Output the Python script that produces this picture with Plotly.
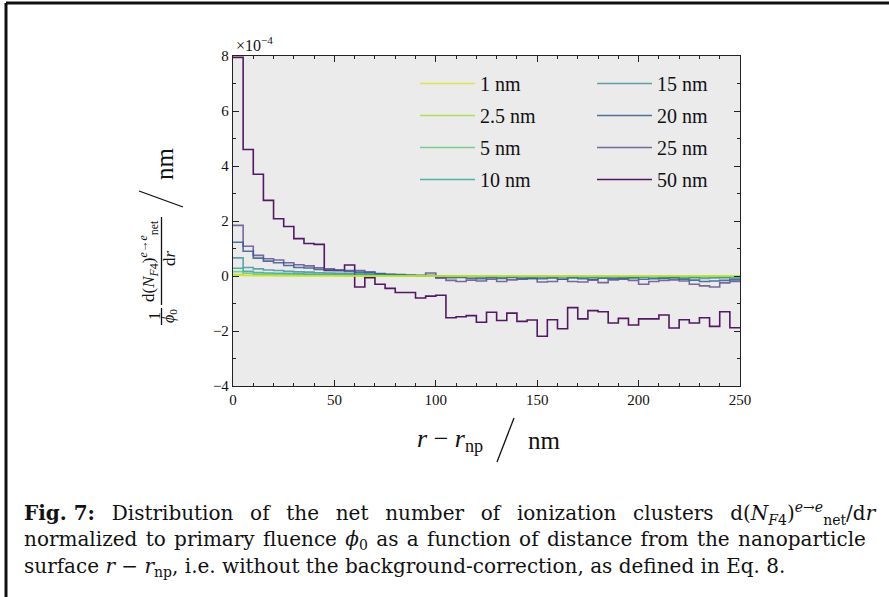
import plotly.graph_objects as go

# Radial bins (nm) of the net cluster distribution, 5 nm wide
BIN_EDGES = list(range(0, 255, 5))

# Legend labels: nanoparticle size
LABELS = ["1 nm", "2.5 nm", "5 nm", "10 nm", "15 nm", "20 nm", "25 nm", "50 nm"]

# (1/phi0) dN/dr per bin, in units of 1e-4 nm^-1
d_1nm = [0.02, 0.01, 0.01, 0.01, 0.01, 0.01, 0.0, 0.0, 0.0, 0.0,
         0.0, 0.0, 0.0, 0.0, 0.0, 0.0, 0.0, 0.0, 0.0, 0.0,
         0.0, 0.0, 0.0, 0.0, 0.0, 0.0, 0.0, 0.0, 0.0, 0.0,
         0.0, 0.0, 0.0, 0.0, 0.0, 0.0, 0.0, 0.0, 0.0, 0.0,
         0.0, 0.0, 0.0, 0.0, 0.0, 0.0, 0.0, 0.0, 0.0, 0.0]
d_2_5nm = [0.05, 0.03, 0.02, 0.02, 0.01, 0.01, 0.01, 0.01, 0.01, 0.01,
           0.01, 0.0, 0.0, 0.0, 0.0, 0.0, 0.0, 0.0, 0.0, 0.0,
           0.0, 0.0, 0.0, 0.0, 0.0, 0.0, 0.0, 0.0, 0.0, 0.0,
           0.0, 0.0, 0.0, 0.0, 0.0, 0.0, 0.0, 0.0, 0.0, 0.0,
           0.0, 0.0, 0.0, 0.0, 0.0, 0.0, 0.0, 0.0, 0.0, 0.0]
d_5nm = [0.16, 0.10, 0.07, 0.06, 0.05, 0.04, 0.04, 0.03, 0.03, 0.03,
         0.02, 0.02, 0.02, 0.02, 0.01, 0.01, 0.01, 0.01, 0.01, 0.01,
         0.0, 0.0, 0.0, 0.0, -0.01, 0.0, -0.01, 0.0, -0.01, -0.01,
         0.0, -0.01, -0.01, 0.0, -0.01, -0.01, -0.01, 0.0, -0.01, -0.01,
         -0.01, -0.01, 0.0, -0.01, -0.01, -0.01, -0.02, -0.01, -0.01, -0.01]
d_10nm = [0.28, 0.17, 0.13, 0.11, 0.10, 0.09, 0.08, 0.07, 0.06, 0.06,
          0.05, 0.05, 0.04, 0.04, 0.03, 0.03, 0.02, 0.02, 0.02, 0.01,
          0.01, 0.0, -0.01, -0.01, -0.02, -0.01, -0.02, -0.01, -0.02, -0.02,
          -0.01, -0.02, -0.02, -0.01, -0.02, -0.03, -0.02, -0.02, -0.03, -0.02,
          -0.03, -0.02, -0.03, -0.02, -0.03, -0.04, -0.03, -0.03, -0.04, -0.03]
d_15nm = [0.66, 0.31, 0.26, 0.22, 0.20, 0.17, 0.15, 0.14, 0.12, 0.11,
          0.10, 0.09, 0.08, 0.07, 0.05, 0.04, 0.04, 0.03, 0.02, 0.02,
          0.0, -0.02, -0.03, -0.02, -0.04, -0.03, -0.05, -0.03, -0.04, -0.06,
          -0.04, -0.05, -0.03, -0.06, -0.04, -0.05, -0.07, -0.04, -0.05, -0.06,
          -0.04, -0.07, -0.05, -0.06, -0.08, -0.06, -0.09, -0.07, -0.06, -0.08]
d_20nm = [1.23, 0.90, 0.65, 0.54, 0.48, 0.38, 0.31, 0.29, 0.24, 0.22,
          0.20, 0.17, 0.14, 0.12, 0.09, 0.06, 0.05, 0.03, 0.02, 0.02,
          -0.04, -0.06, -0.05, -0.08, -0.10, -0.06, -0.09, -0.05, -0.10, -0.08,
          -0.10, -0.07, -0.12, -0.06, -0.10, -0.12, -0.08, -0.10, -0.09, -0.06,
          -0.12, -0.10, -0.08, -0.06, -0.12, -0.15, -0.20, -0.18, -0.16, -0.14]
d_25nm = [1.84, 1.08, 0.75, 0.63, 0.58, 0.48, 0.41, 0.37, 0.30, 0.26,
          0.22, 0.20, 0.20, 0.15, 0.08, 0.05, 0.03, 0.02, 0.0, 0.11,
          -0.08, -0.16, -0.20, -0.15, -0.18, -0.12, -0.20, -0.14, -0.12, -0.10,
          -0.22, -0.20, -0.12, -0.20, -0.22, -0.15, -0.24, -0.14, -0.12, -0.16,
          -0.30, -0.20, -0.16, -0.14, -0.18, -0.30, -0.36, -0.40, -0.25, -0.20]
d_50nm = [7.95, 4.60, 3.70, 2.75, 2.08, 1.80, 1.36, 1.18, 1.15, 0.20,
          0.20, 0.40, -0.40, -0.06, -0.30, -0.45, -0.60, -0.60, -0.80, -0.73,
          -0.70, -1.52, -1.48, -1.44, -1.68, -1.32, -1.62, -1.35, -1.65, -1.60,
          -2.19, -1.59, -1.92, -1.15, -1.56, -1.26, -1.30, -1.71, -1.54, -1.78,
          -1.56, -1.56, -1.42, -1.89, -1.59, -1.71, -1.52, -1.83, -1.30, -1.88]

SERIES = [d_1nm, d_2_5nm, d_5nm, d_10nm, d_15nm, d_20nm, d_25nm, d_50nm]
UNIT = 1e-4

# Y tick positions (in units of 1e-4) and labels
Y_TICKS = [-4, -2, 0, 2, 4, 6, 8]
Y_TICK_TEXT = ["\u22124", "\u22122", "0", "2", "4", "6", "8"]
X_TICKS = [0, 50, 100, 150, 200, 250]

# viridis, small particles bright -> large particles dark
COLORS = ["rgba(221,227,24,0.75)", "rgba(160,218,57,0.8)", "rgba(74,193,109,0.7)",
          "rgba(31,161,135,0.75)", "rgba(39,127,142,0.7)", "rgba(54,92,141,0.85)",
          "rgba(70,50,126,0.7)", "rgba(68,1,84,0.9)"]

W, H = 889, 597
L, R, T, B = 233, 149, 56, 211
PW, PH = W - L - R, H - T - B


def px(x):
    return (x - L) / PW


def py(y):
    return (H - B - y) / PH


SERIF = "Liberation Serif"
CAPTION_FONT = "DejaVu Serif"
fig = go.Figure()

# draw big particles first so the flat small-particle curves sit on top
for i in reversed(range(len(SERIES))):
    vals = [v * UNIT for v in SERIES[i]]
    col = 1 if i < 4 else 2
    fig.add_trace(go.Scatter(
        x=BIN_EDGES, y=vals + [vals[-1]], mode="lines",
        line=dict(color=COLORS[i], width=1.6, shape="hv"),
        name=LABELS[i], legend="legend" if col == 1 else "legend2",
        legendgroup=LABELS[i], legendrank=i + 1,
    ))

axis_common = dict(
    showline=True, linecolor="#222", linewidth=1.3, mirror="ticks",
    ticks="inside", ticklen=6, tickwidth=1, tickcolor="#222",
    showgrid=False, zeroline=False,
    tickfont=dict(family=SERIF, size=15, color="#111"),
)
fig.update_xaxes(range=[0, 250], tickvals=X_TICKS,
                 minor=dict(dtick=10, ticks="inside", ticklen=3, tickcolor="#222"),
                 **axis_common)
fig.update_yaxes(range=[-4 * UNIT, 8 * UNIT], tickvals=[t * UNIT for t in Y_TICKS],
                 ticktext=Y_TICK_TEXT,
                 minor=dict(dtick=UNIT, ticks="inside", ticklen=3, tickcolor="#222"),
                 **axis_common)

legend_style = dict(font=dict(family=SERIF, size=20, color="#111"),
                    bgcolor="rgba(0,0,0,0)", traceorder="grouped",
                    tracegroupgap=3, itemwidth=55, yanchor="top", xanchor="left")
fig.update_layout(
    width=W, height=H, margin=dict(l=L, r=R, t=T, b=B),
    paper_bgcolor="white", plot_bgcolor="#ebebeb",
    legend=dict(x=px(415), y=py(64), **legend_style),
    legend2=dict(x=px(592), y=py(64), **legend_style),
)

ann = []
# exponent of the y axis
ann.append(dict(x=px(234), y=py(44), text="\u00d710<sup>\u22124</sup>",
                font=dict(family=SERIF, size=16, color="#111"),
                xanchor="left", yanchor="middle"))
# x axis title
ann.append(dict(x=px(450), y=py(440), text="<i>r</i> \u2212 <i>r</i><sub>np</sub>",
                font=dict(family=SERIF, size=26, color="#111"),
                xanchor="center", yanchor="middle"))
ann.append(dict(x=px(544), y=py(440), text="nm",
                font=dict(family=SERIF, size=25, color="#111"),
                xanchor="center", yanchor="middle"))
# y axis title, a rotated fraction
ann.append(dict(x=px(148), y=py(261),
                text="d(<i>N</i><sub><i>F</i>4</sub>)<sup><i>e</i>\u2192<i>e</i></sup><sub>net</sub>",
                font=dict(family=SERIF, size=17, color="#111"), textangle=-90,
                xanchor="center", yanchor="middle"))
ann.append(dict(x=px(169), y=py(258), text="d<i>r</i>",
                font=dict(family=SERIF, size=17, color="#111"), textangle=-90,
                xanchor="center", yanchor="middle"))
ann.append(dict(x=px(154), y=py(316), text="1",
                font=dict(family=SERIF, size=16, color="#111"), textangle=-90,
                xanchor="center", yanchor="middle"))
ann.append(dict(x=px(169), y=py(316), text="<i>\u03d5</i><sub>0</sub>",
                font=dict(family=SERIF, size=16, color="#111"), textangle=-90,
                xanchor="center", yanchor="middle"))
ann.append(dict(x=px(164), y=py(164), text="nm",
                font=dict(family=SERIF, size=25, color="#111"), textangle=-90,
                xanchor="center", yanchor="middle"))

# caption: the first two lines are stretched by widening the word gaps
CAPTION = [
    ("<b>Fig.\u00a07:</b> Distribution of the net number of ionization clusters "
     "d(<i>N</i><sub><i>F</i>4</sub>)<sup><i>e</i>\u2192<i>e</i></sup><sub>net</sub>/d<i>r</i>",
     " \u2005\u2006\u200a"),
    ("normalized to primary fluence <i>\u03d5</i><sub>0</sub> as a function of distance "
     "from the nanoparticle", " \u200a"),
    ("surface <i>r</i>\u00a0\u2212\u00a0<i>r</i><sub>np</sub>, i.e. without the "
     "background-correction, as defined in Eq.\u00a08.", " "),
]
for k, (line, gap) in enumerate(CAPTION):
    ann.append(dict(x=px(22), y=py(513 + 27 * k), text=line.replace(" ", gap),
                    font=dict(family=CAPTION_FONT, size=20, color="#111"),
                    xanchor="left", yanchor="middle"))

for a in ann:
    a.update(xref="paper", yref="paper", showarrow=False)
fig.update_layout(annotations=ann)

shapes = [
    # fraction bars and slashes of the axis titles
    dict(x0=px(161.5), x1=px(161.5), y0=py(217), y1=py(305)),
    dict(x0=px(161.5), x1=px(161.5), y0=py(308), y1=py(325)),
    dict(x0=px(139), x1=px(183), y0=py(191), y1=py(207)),
    dict(x0=px(497), x1=px(514), y0=py(462), y1=py(418)),
    # page frame
    dict(x0=px(6), x1=px(6), y0=py(3), y1=py(597)),
    dict(x0=px(6), x1=px(889), y0=py(3), y1=py(3)),
]
for s in shapes:
    s.update(type="line", xref="paper", yref="paper", line=dict(color="#111", width=1.3))
shapes[-1]["line"]["width"] = 3
shapes[-2]["line"]["width"] = 3
fig.update_layout(shapes=shapes)

fig.write_html("out.html")
